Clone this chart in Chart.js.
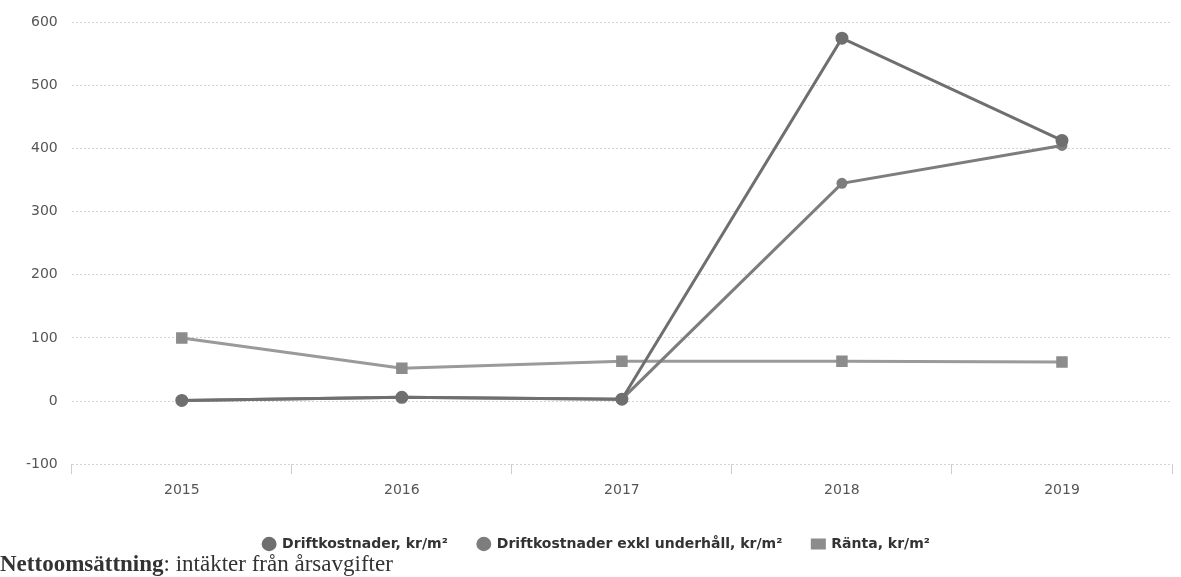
<!DOCTYPE html>
<html lang="sv">
<head>
<meta charset="utf-8">
<title>Driftkostnader och ränta</title>
<script src="https://cdn.jsdelivr.net/npm/chart.js@4.4.1/dist/chart.umd.min.js"></script>
<style>
    html, body {
        margin: 0;
        padding: 0;
        background: #ffffff;
    }
    #wrap {
        position: relative;
        width: 1181px;
        height: 577px;
        overflow: hidden;
    }
    #note {
        position: absolute;
        left: 0;
        top: 551px;
        font-family: "Liberation Serif", "DejaVu Serif", serif;
        font-size: 23px;
        color: #333;
        white-space: nowrap;
    }
</style>
</head>
<body>
<div id="wrap">
    <canvas id="chart" width="1181" height="577"></canvas>
    <div id="note"><b>Nettoomsättning</b>: intäkter från årsavgifter</div>
</div>
<script>
// Värden (ungefärliga)
const years = ['2015', '2016', '2017', '2018', '2019'];
const driftkostnader = [1, 6, 3, 575, 413];
const driftkostnaderExkl = [1, 6, 3, 345, 405];
const ranta = [100, 52, 63, 63, 62];
const yTicks = [-100, 0, 100, 200, 300, 400, 500, 600];

const ctx = document.getElementById('chart');

new Chart(ctx, {
    type: 'line',
    data: {
        labels: years,
        datasets: [
            {
                label: 'Driftkostnader, kr/m²',
                data: driftkostnader,
                borderColor: '#6f6f6f',
                backgroundColor: '#6f6f6f',
                borderWidth: 3,
                pointStyle: 'circle',
                pointRadius: 5,
                pointBackgroundColor: '#6f6f6f',
                pointBorderColor: '#6f6f6f',
                tension: 0
            },
            {
                label: 'Driftkostnader exkl underhåll, kr/m²',
                data: driftkostnaderExkl,
                borderColor: '#7d7d7d',
                backgroundColor: '#7d7d7d',
                borderWidth: 3,
                pointStyle: 'circle',
                pointRadius: 4,
                pointBackgroundColor: '#7d7d7d',
                pointBorderColor: '#7d7d7d',
                tension: 0
            },
            {
                label: 'Ränta, kr/m²',
                data: ranta,
                borderColor: '#9a9a9a',
                backgroundColor: '#9a9a9a',
                borderWidth: 3,
                pointStyle: 'rect',
                pointRadius: 6,
                pointBackgroundColor: '#8c8c8c',
                pointBorderColor: '#8c8c8c',
                tension: 0
            }
        ]
    },
    options: {
        responsive: false,
        animation: false,
        layout: {
            padding: { top: 14, right: 0, bottom: 16, left: 12 }
        },
        plugins: {
            title: { display: false },
            tooltip: { enabled: false },
            legend: {
                display: true,
                position: 'bottom',
                labels: {
                    usePointStyle: true,
                    pointStyleWidth: 12,
                    boxHeight: 8,
                    padding: 30,
                    color: '#333',
                    font: {
                        family: 'DejaVu Sans',
                        size: 14,
                        weight: 'bold'
                    }
                }
            }
        },
        scales: {
            x: {
                offset: true,
                grid: {
                    display: true,
                    offset: true,
                    drawOnChartArea: false,
                    tickLength: 10,
                    color: '#cfcfcf'
                },
                border: { display: false },
                ticks: {
                    color: '#555',
                    padding: 8,
                    font: { family: 'DejaVu Sans', size: 14 }
                }
            },
            y: {
                min: -100,
                max: 600,
                afterBuildTicks: function(axis) {
                    axis.ticks = yTicks.map(v => ({ value: v }));
                },
                grid: {
                    color: '#d4d4d4',
                    drawTicks: false
                },
                border: { display: false, dash: [2, 2] },
                ticks: {
                    color: '#555',
                    padding: 14,
                    font: { family: 'DejaVu Sans', size: 14 }
                }
            }
        }
    }
});
</script>
</body>
</html>
